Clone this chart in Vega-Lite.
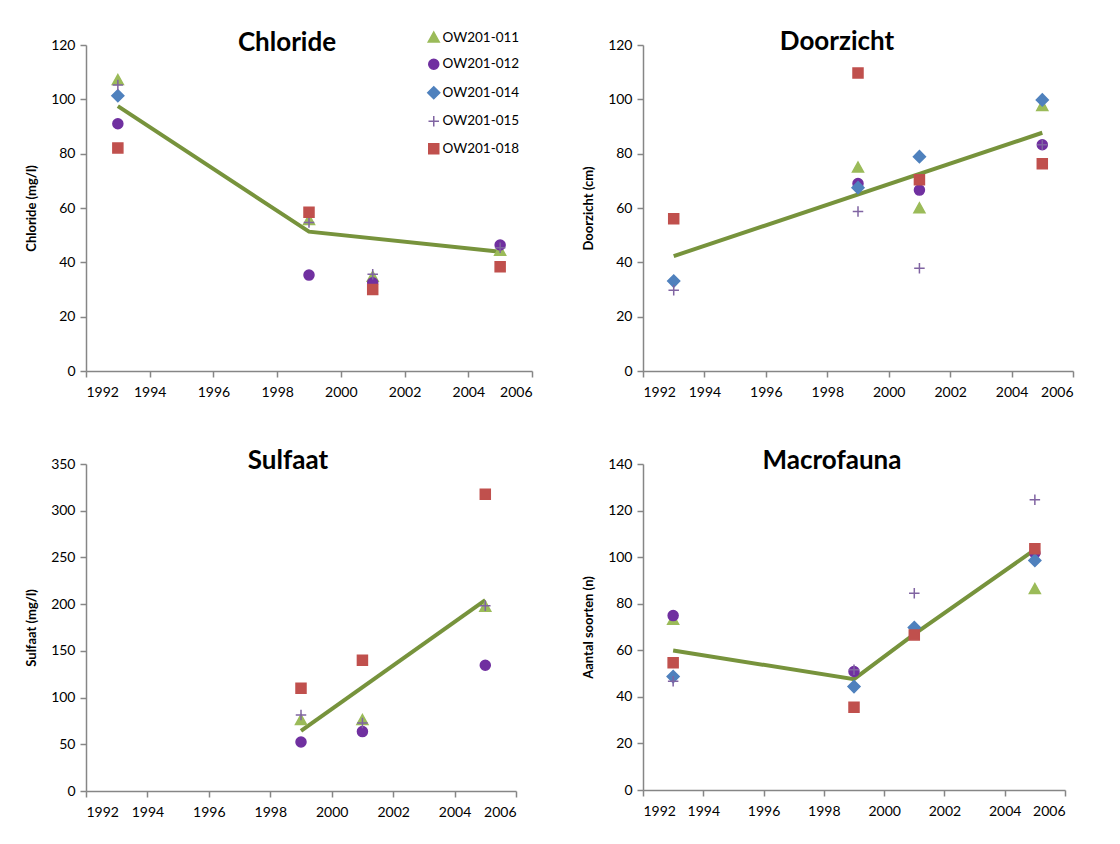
{
  "$schema": "https://vega.github.io/schema/vega-lite/v6.json",
  "background": "white",
  "padding": {"left": 25, "top": 29, "right": 5, "bottom": 5},
  "datasets": {
    "pts": [
      {"panel": "Chloride", "series": "OW201-011", "year": 1993, "value": 107},
      {"panel": "Chloride", "series": "OW201-011", "year": 1999, "value": 55.5},
      {"panel": "Chloride", "series": "OW201-011", "year": 2001, "value": 34.6},
      {"panel": "Chloride", "series": "OW201-011", "year": 2005, "value": 44.2},
      {"panel": "Chloride", "series": "OW201-012", "year": 1993, "value": 91},
      {"panel": "Chloride", "series": "OW201-012", "year": 1999, "value": 35.3},
      {"panel": "Chloride", "series": "OW201-012", "year": 2001, "value": 32.5},
      {"panel": "Chloride", "series": "OW201-012", "year": 2005, "value": 46.4},
      {"panel": "Chloride", "series": "OW201-014", "year": 1993, "value": 101.3},
      {"panel": "Chloride", "series": "OW201-015", "year": 1993, "value": 105.3},
      {"panel": "Chloride", "series": "OW201-015", "year": 1999, "value": 54.7},
      {"panel": "Chloride", "series": "OW201-015", "year": 2001, "value": 35.6},
      {"panel": "Chloride", "series": "OW201-015", "year": 2005, "value": 45.4},
      {"panel": "Chloride", "series": "OW201-018", "year": 1993, "value": 82.1},
      {"panel": "Chloride", "series": "OW201-018", "year": 1999, "value": 58.4},
      {"panel": "Chloride", "series": "OW201-018", "year": 2001, "value": 30},
      {"panel": "Chloride", "series": "OW201-018", "year": 2005, "value": 38.4},

      {"panel": "Doorzicht", "series": "OW201-011", "year": 1999, "value": 74.8},
      {"panel": "Doorzicht", "series": "OW201-011", "year": 2001, "value": 59.8},
      {"panel": "Doorzicht", "series": "OW201-011", "year": 2005, "value": 97.5},
      {"panel": "Doorzicht", "series": "OW201-012", "year": 1999, "value": 69},
      {"panel": "Doorzicht", "series": "OW201-012", "year": 2001, "value": 66.6},
      {"panel": "Doorzicht", "series": "OW201-012", "year": 2005, "value": 83.3},
      {"panel": "Doorzicht", "series": "OW201-014", "year": 1993, "value": 33.1},
      {"panel": "Doorzicht", "series": "OW201-014", "year": 1999, "value": 67.5},
      {"panel": "Doorzicht", "series": "OW201-014", "year": 2001, "value": 78.9},
      {"panel": "Doorzicht", "series": "OW201-014", "year": 2005, "value": 99.8},
      {"panel": "Doorzicht", "series": "OW201-015", "year": 1993, "value": 29.7},
      {"panel": "Doorzicht", "series": "OW201-015", "year": 1999, "value": 58.7},
      {"panel": "Doorzicht", "series": "OW201-015", "year": 2001, "value": 37.8},
      {"panel": "Doorzicht", "series": "OW201-015", "year": 2005, "value": 83.3},
      {"panel": "Doorzicht", "series": "OW201-018", "year": 1993, "value": 56},
      {"panel": "Doorzicht", "series": "OW201-018", "year": 1999, "value": 109.7},
      {"panel": "Doorzicht", "series": "OW201-018", "year": 2001, "value": 70.4},
      {"panel": "Doorzicht", "series": "OW201-018", "year": 2005, "value": 76.3},

      {"panel": "Sulfaat", "series": "OW201-011", "year": 1999, "value": 75.7},
      {"panel": "Sulfaat", "series": "OW201-011", "year": 2001, "value": 75.7},
      {"panel": "Sulfaat", "series": "OW201-011", "year": 2005, "value": 197},
      {"panel": "Sulfaat", "series": "OW201-012", "year": 1999, "value": 52.5},
      {"panel": "Sulfaat", "series": "OW201-012", "year": 2001, "value": 63.6},
      {"panel": "Sulfaat", "series": "OW201-012", "year": 2005, "value": 134.6},
      {"panel": "Sulfaat", "series": "OW201-015", "year": 1999, "value": 81.4},
      {"panel": "Sulfaat", "series": "OW201-015", "year": 2001, "value": 72.9},
      {"panel": "Sulfaat", "series": "OW201-015", "year": 2005, "value": 198.2},
      {"panel": "Sulfaat", "series": "OW201-018", "year": 1999, "value": 110},
      {"panel": "Sulfaat", "series": "OW201-018", "year": 2001, "value": 140},
      {"panel": "Sulfaat", "series": "OW201-018", "year": 2005, "value": 317.5},

      {"panel": "Macrofauna", "series": "OW201-011", "year": 1993, "value": 73},
      {"panel": "Macrofauna", "series": "OW201-011", "year": 2005, "value": 86.2},
      {"panel": "Macrofauna", "series": "OW201-012", "year": 1993, "value": 74.9},
      {"panel": "Macrofauna", "series": "OW201-012", "year": 1999, "value": 50.9},
      {"panel": "Macrofauna", "series": "OW201-012", "year": 2005, "value": 101.7},
      {"panel": "Macrofauna", "series": "OW201-014", "year": 1993, "value": 48.7},
      {"panel": "Macrofauna", "series": "OW201-014", "year": 1999, "value": 44.4},
      {"panel": "Macrofauna", "series": "OW201-014", "year": 2001, "value": 69.8},
      {"panel": "Macrofauna", "series": "OW201-014", "year": 2005, "value": 98.6},
      {"panel": "Macrofauna", "series": "OW201-015", "year": 1993, "value": 46.7},
      {"panel": "Macrofauna", "series": "OW201-015", "year": 1999, "value": 51.6},
      {"panel": "Macrofauna", "series": "OW201-015", "year": 2001, "value": 84.5},
      {"panel": "Macrofauna", "series": "OW201-015", "year": 2005, "value": 124.6},
      {"panel": "Macrofauna", "series": "OW201-018", "year": 1993, "value": 54.7},
      {"panel": "Macrofauna", "series": "OW201-018", "year": 1999, "value": 35.5},
      {"panel": "Macrofauna", "series": "OW201-018", "year": 2001, "value": 66.6},
      {"panel": "Macrofauna", "series": "OW201-018", "year": 2005, "value": 103.6}
    ],
    "trend": [
      {"panel": "Chloride", "year": 1993, "value": 97.5},
      {"panel": "Chloride", "year": 1999, "value": 51.3},
      {"panel": "Chloride", "year": 2005, "value": 43.9},
      {"panel": "Doorzicht", "year": 1993, "value": 42.3},
      {"panel": "Doorzicht", "year": 2005, "value": 87.7},
      {"panel": "Sulfaat", "year": 1999, "value": 64.3},
      {"panel": "Sulfaat", "year": 2005, "value": 204.3},
      {"panel": "Macrofauna", "year": 1993, "value": 59.9},
      {"panel": "Macrofauna", "year": 1999, "value": 47.6},
      {"panel": "Macrofauna", "year": 2001, "value": 66.9},
      {"panel": "Macrofauna", "year": 2005, "value": 103.2}
    ]
  },
  "columns": 2,
  "align": "none",
  "bounds": "flush",
  "spacing": {"row": 93, "column": 111},
  "resolve": {
    "scale": {"x": "independent", "y": "independent", "fill": "independent", "stroke": "independent", "shape": "independent"},
    "legend": {"fill": "independent", "stroke": "independent", "shape": "independent"}
  },
  "concat": [
    {
      "width": 446,
      "height": 326,
      "title": {"text": "Chloride", "dx": -22, "offset": -25},
      "layer": [
        {
          "data": {"name": "trend"},
          "transform": [{"filter": "datum.panel === 'Chloride'"}],
          "mark": {"type": "line", "color": "#77933C", "strokeWidth": 4},
          "encoding": {
            "x": {"field": "year", "type": "quantitative", "scale": {"domain": [1992, 2006], "nice": false, "zero": false}, "axis": {"values": [1992, 1994, 1996, 1998, 2000, 2002, 2004, 2006], "format": "d", "title": null}},
            "y": {"field": "value", "type": "quantitative", "scale": {"domain": [0, 120], "nice": false}, "axis": {"values": [0, 20, 40, 60, 80, 100, 120], "title": "Chloride (mg/l)"}}
          }
        },
        {
          "data": {"name": "pts"},
          "transform": [{"filter": "datum.panel === 'Chloride'"}],
          "mark": {"type": "point", "filled": false, "opacity": 1, "size": 100, "strokeWidth": 1.5},
          "encoding": {
            "x": {"field": "year", "type": "quantitative"},
            "y": {"field": "value", "type": "quantitative"},
            "fill": {"field": "series", "type": "nominal", "scale": {"domain": ["OW201-011", "OW201-012", "OW201-014", "OW201-015", "OW201-018"], "range": ["#9BBB59", "#7030A0", "#4F81BD", "transparent", "#C0504D"]},
              "legend": {"title": null, "orient": "none", "legendX": 341, "legendY": -14, "padding": 0, "rowPadding": 10.5, "labelOffset": 2, "symbolSize": 100, "symbolStrokeWidth": 1.5, "labelFont": "Lato", "labelFontSize": 13.5, "labelColor": "#000"}},
            "stroke": {"field": "series", "type": "nominal", "scale": {"domain": ["OW201-011", "OW201-012", "OW201-014", "OW201-015", "OW201-018"], "range": ["#9BBB59", "#7030A0", "#4F81BD", "#8064A2", "#C0504D"]},
              "legend": {"title": null, "orient": "none", "legendX": 341, "legendY": -14, "padding": 0, "rowPadding": 10.5, "labelOffset": 2, "symbolSize": 100, "symbolStrokeWidth": 1.5, "labelFont": "Lato", "labelFontSize": 13.5, "labelColor": "#000"}},
            "shape": {"field": "series", "type": "nominal", "scale": {"domain": ["OW201-011", "OW201-012", "OW201-014", "OW201-015", "OW201-018"], "range": ["M0,-1.15L1.1,0.85L-1.1,0.85Z", "circle", "M0,-1.2L1.2,0L0,1.2L-1.2,0Z", "M-1.05,0H1.05M0,-1.05V1.05", "square"]},
              "legend": {"title": null, "orient": "none", "legendX": 341, "legendY": -14, "padding": 0, "rowPadding": 10.5, "labelOffset": 2, "symbolSize": 100, "symbolStrokeWidth": 1.5, "labelFont": "Lato", "labelFontSize": 13.5, "labelColor": "#000"}}
          }
        }
      ]
    },
    {
      "width": 430,
      "height": 326,
      "title": {"text": "Doorzicht", "dx": -21},
      "layer": [
        {
          "data": {"name": "trend"},
          "transform": [{"filter": "datum.panel === 'Doorzicht'"}],
          "mark": {"type": "line", "color": "#77933C", "strokeWidth": 4},
          "encoding": {
            "x": {"field": "year", "type": "quantitative", "scale": {"domain": [1992, 2006], "nice": false, "zero": false}, "axis": {"values": [1992, 1994, 1996, 1998, 2000, 2002, 2004, 2006], "format": "d", "title": null}},
            "y": {"field": "value", "type": "quantitative", "scale": {"domain": [0, 120], "nice": false}, "axis": {"values": [0, 20, 40, 60, 80, 100, 120], "title": "Doorzicht (cm)"}}
          }
        },
        {
          "data": {"name": "pts"},
          "transform": [{"filter": "datum.panel === 'Doorzicht'"}],
          "mark": {"type": "point", "filled": false, "opacity": 1, "size": 100, "strokeWidth": 1.5},
          "encoding": {
            "x": {"field": "year", "type": "quantitative"},
            "y": {"field": "value", "type": "quantitative"},
            "fill": {"field": "series", "type": "nominal", "scale": {"domain": ["OW201-011", "OW201-012", "OW201-014", "OW201-015", "OW201-018"], "range": ["#9BBB59", "#7030A0", "#4F81BD", "transparent", "#C0504D"]}, "legend": null},
            "stroke": {"field": "series", "type": "nominal", "scale": {"domain": ["OW201-011", "OW201-012", "OW201-014", "OW201-015", "OW201-018"], "range": ["#9BBB59", "#7030A0", "#4F81BD", "#8064A2", "#C0504D"]}, "legend": null},
            "shape": {"field": "series", "type": "nominal", "scale": {"domain": ["OW201-011", "OW201-012", "OW201-014", "OW201-015", "OW201-018"], "range": ["M0,-1.15L1.1,0.85L-1.1,0.85Z", "circle", "M0,-1.2L1.2,0L0,1.2L-1.2,0Z", "M-1.05,0H1.05M0,-1.05V1.05", "square"]}, "legend": null}
          }
        }
      ]
    },
    {
      "width": 446,
      "height": 327,
      "title": {"text": "Sulfaat", "dx": -21},
      "layer": [
        {
          "data": {"name": "trend"},
          "transform": [{"filter": "datum.panel === 'Sulfaat'"}],
          "mark": {"type": "line", "color": "#77933C", "strokeWidth": 4},
          "encoding": {
            "x": {"field": "year", "type": "quantitative", "scale": {"domain": [1992, 2006], "nice": false, "zero": false, "range": [0, 430]}, "axis": {"values": [1992, 1994, 1996, 1998, 2000, 2002, 2004, 2006], "format": "d", "title": null}},
            "y": {"field": "value", "type": "quantitative", "scale": {"domain": [0, 350], "nice": false}, "axis": {"values": [0, 50, 100, 150, 200, 250, 300, 350], "title": "Sulfaat (mg/l)"}}
          }
        },
        {
          "data": {"name": "pts"},
          "transform": [{"filter": "datum.panel === 'Sulfaat'"}],
          "mark": {"type": "point", "filled": false, "opacity": 1, "size": 100, "strokeWidth": 1.5},
          "encoding": {
            "x": {"field": "year", "type": "quantitative"},
            "y": {"field": "value", "type": "quantitative"},
            "fill": {"field": "series", "type": "nominal", "scale": {"domain": ["OW201-011", "OW201-012", "OW201-014", "OW201-015", "OW201-018"], "range": ["#9BBB59", "#7030A0", "#4F81BD", "transparent", "#C0504D"]}, "legend": null},
            "stroke": {"field": "series", "type": "nominal", "scale": {"domain": ["OW201-011", "OW201-012", "OW201-014", "OW201-015", "OW201-018"], "range": ["#9BBB59", "#7030A0", "#4F81BD", "#8064A2", "#C0504D"]}, "legend": null},
            "shape": {"field": "series", "type": "nominal", "scale": {"domain": ["OW201-011", "OW201-012", "OW201-014", "OW201-015", "OW201-018"], "range": ["M0,-1.15L1.1,0.85L-1.1,0.85Z", "circle", "M0,-1.2L1.2,0L0,1.2L-1.2,0Z", "M-1.05,0H1.05M0,-1.05V1.05", "square"]}, "legend": null}
          }
        }
      ]
    },
    {
      "width": 422,
      "height": 326,
      "title": {"text": "Macrofauna", "dx": -22},
      "layer": [
        {
          "data": {"name": "trend"},
          "transform": [{"filter": "datum.panel === 'Macrofauna'"}],
          "mark": {"type": "line", "color": "#77933C", "strokeWidth": 4},
          "encoding": {
            "x": {"field": "year", "type": "quantitative", "scale": {"domain": [1992, 2006], "nice": false, "zero": false}, "axis": {"values": [1992, 1994, 1996, 1998, 2000, 2002, 2004, 2006], "format": "d", "title": null}},
            "y": {"field": "value", "type": "quantitative", "scale": {"domain": [0, 140], "nice": false}, "axis": {"values": [0, 20, 40, 60, 80, 100, 120, 140], "title": "Aantal soorten (n)"}}
          }
        },
        {
          "data": {"name": "pts"},
          "transform": [{"filter": "datum.panel === 'Macrofauna'"}],
          "mark": {"type": "point", "filled": false, "opacity": 1, "size": 100, "strokeWidth": 1.5},
          "encoding": {
            "x": {"field": "year", "type": "quantitative"},
            "y": {"field": "value", "type": "quantitative"},
            "fill": {"field": "series", "type": "nominal", "scale": {"domain": ["OW201-011", "OW201-012", "OW201-014", "OW201-015", "OW201-018"], "range": ["#9BBB59", "#7030A0", "#4F81BD", "transparent", "#C0504D"]}, "legend": null},
            "stroke": {"field": "series", "type": "nominal", "scale": {"domain": ["OW201-011", "OW201-012", "OW201-014", "OW201-015", "OW201-018"], "range": ["#9BBB59", "#7030A0", "#4F81BD", "#8064A2", "#C0504D"]}, "legend": null},
            "shape": {"field": "series", "type": "nominal", "scale": {"domain": ["OW201-011", "OW201-012", "OW201-014", "OW201-015", "OW201-018"], "range": ["M0,-1.15L1.1,0.85L-1.1,0.85Z", "circle", "M0,-1.2L1.2,0L0,1.2L-1.2,0Z", "M-1.05,0H1.05M0,-1.05V1.05", "square"]}, "legend": null}
          }
        }
      ]
    }
  ],
  "config": {
    "font": "Lato",
    "view": {"stroke": null},
    "axis": {
      "grid": false,
      "domainColor": "#868686",
      "domainWidth": 1.5,
      "tickColor": "#868686",
      "tickWidth": 1.5,
      "tickSize": 6,
      "labelFont": "Lato",
      "labelFontSize": 14,
      "labelColor": "#000000",
      "labelPadding": 5,
      "titleFont": "Lato",
      "titleFontSize": 13,
      "titleFontWeight": "bold",
      "titleColor": "#000000",
      "titlePadding": 12
    },
    "axisX": {"labelPadding": 8},
    "title": {
      "font": "Lato",
      "fontSize": 26,
      "fontWeight": "bold",
      "color": "#000000",
      "anchor": "middle",
      "baseline": "alphabetic",
      "offset": -17
    }
  }
}
